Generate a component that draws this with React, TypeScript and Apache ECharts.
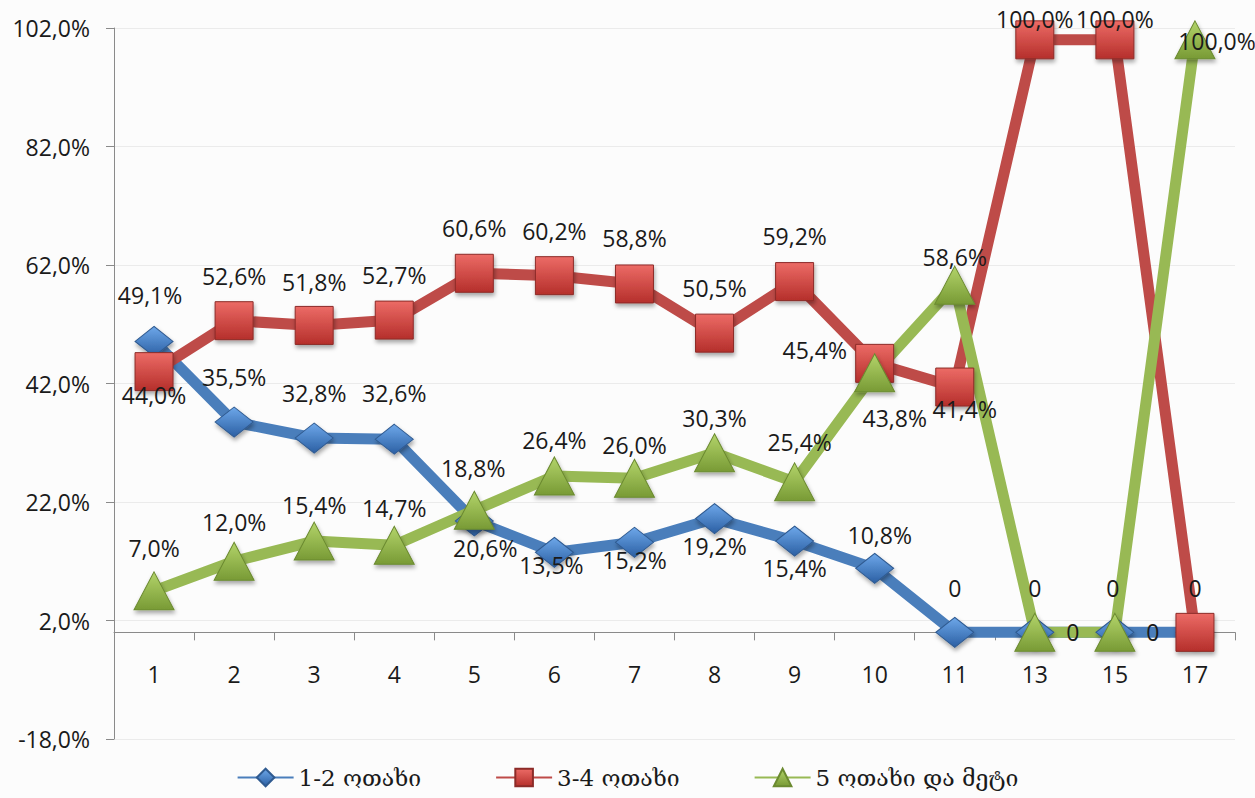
import React, { useEffect, useRef } from "react";
import * as echarts from "echarts";

const categories = ["1", "2", "3", "4", "5", "6", "7", "8", "9", "10", "11", "13", "15", "17"];
const rooms12 = [49.1, 35.5, 32.8, 32.6, 18.8, 13.5, 15.2, 19.2, 15.4, 10.8, 0, 0, 0, 0];
const rooms34 = [44.0, 52.6, 51.8, 52.7, 60.6, 60.2, 58.8, 50.5, 59.2, 45.4, 41.4, 100.0, 100.0, 0];
const rooms5 = [7.0, 12.0, 15.4, 14.7, 20.6, 26.4, 26.0, 30.3, 25.4, 43.8, 58.6, 0, 0, 100.0];
const seriesNames = ["1-2 ოთახი", "3-4 ოთახი", "5 ოთახი და მეტი"];
const yMin = -18;
const yMax = 102;
const yStep = 20;

// label placement (offset from the marker centre), styling only
const blueLabelOffsets: (number[] | null)[] = [
  [-4, -46], [0, -45], [0, -45], [0, -46], [-1, -53], [-3, 13], [0, 18], [0, 27], [0, 27], [5, -33], [0, -44], [0, -44], [-2, -44], null,
];
const redLabelOffsets: (number[] | null)[] = [
  [0, 23], [0, -45], [0, -43], [0, -45], [0, -45], [0, -45], [0, -46], [0, -45], [0, -46], [-60, -13], [10, 22], [0, -21], [0, -21], [0, -44],
];
const greenLabelOffsets: (number[] | null)[] = [
  [0, -43], [0, -39], [0, -36], [0, -37], [11, 38], [0, -36], [0, -33], [0, -35], [5, -40], [20, 45], [0, -28], [38, 0], [38, 0], [22, 1],
];

const fmt = (v: number) => (v === 0 ? "0" : v.toFixed(1).replace(".", ",") + "%");

const grad = (top: string, bottom: string) =>
  new echarts.graphic.LinearGradient(0, 0, 0, 1, [
    { offset: 0, color: top },
    { offset: 1, color: bottom },
  ]);

function buildData(values: number[], offsets: (number[] | null)[]) {
  return values.map((v, i) => {
    const off = offsets[i];
    return {
      value: v,
      label: off
        ? { show: true, position: "inside", offset: off }
        : { show: false },
    };
  });
}

export default function App() {
  const ref = useRef<HTMLDivElement>(null);
  useEffect(() => {
    if (!ref.current) return;
    const chart = echarts.init(ref.current, undefined, { renderer: "svg" });
    const labelStyle = {
      fontFamily: "Open Sans",
      fontSize: 23,
      color: "#1a1a1a",
      formatter: (p: any) => fmt(p.value),
    };
    const markerShadow = {
      shadowBlur: 4,
      shadowColor: "rgba(0,0,0,0.35)",
      shadowOffsetX: 1,
      shadowOffsetY: 3,
    };
    chart.setOption({
      animation: false,
      backgroundColor: "#fcfcfc",
      grid: { left: 114, right: 20, top: 28, bottom: 59, containLabel: false },
      legend: {
        bottom: 4,
        left: "center",
        itemWidth: 56,
        itemHeight: 22,
        itemGap: 74,
        textStyle: { fontFamily: "DejaVu Serif", fontSize: 23, color: "#1a1a1a" },
        data: seriesNames,
      },
      xAxis: {
        type: "category",
        data: categories,
        boundaryGap: true,
        axisLine: { onZero: true, lineStyle: { color: "#8a8a8a", width: 1 } },
        axisTick: { show: true, length: 8, lineStyle: { color: "#8a8a8a" } },
        axisLabel: { margin: -77, fontFamily: "Open Sans", fontSize: 23, color: "#1a1a1a" },
        splitLine: { show: false },
      },
      yAxis: {
        type: "value",
        min: yMin,
        max: yMax,
        interval: yStep,
        axisLine: { show: true, onZero: false, lineStyle: { color: "#8a8a8a", width: 1 } },
        axisTick: { show: true, length: 8, lineStyle: { color: "#8a8a8a" } },
        axisLabel: {
          margin: 24,
          fontFamily: "Open Sans",
          fontSize: 23,
          color: "#1a1a1a",
          formatter: (v: number) => v.toFixed(1).replace(".", ",") + "%",
        },
        splitLine: { show: true, lineStyle: { color: "#ebebeb", width: 1 } },
      },
      series: [
        {
          name: seriesNames[0],
          type: "line",
          data: buildData(rooms12, blueLabelOffsets),
          symbol: "diamond",
          symbolSize: [38, 30],
          lineStyle: { color: "#4a7ebb", width: 11 },
          itemStyle: { color: grad("#6ea8ea", "#2b5fa3"), borderColor: "#2f5a90", borderWidth: 1, ...markerShadow },
          label: labelStyle,
          emphasis: { disabled: true },
        },
        {
          name: seriesNames[1],
          type: "line",
          data: buildData(rooms34, redLabelOffsets),
          symbol: "rect",
          symbolSize: 38,
          lineStyle: { color: "#be4b48", width: 11 },
          itemStyle: { color: grad("#ec6b66", "#b52f2b"), borderColor: "#8c2b28", borderWidth: 1, ...markerShadow },
          label: labelStyle,
          emphasis: { disabled: true },
        },
        {
          name: seriesNames[2],
          type: "line",
          data: buildData(rooms5, greenLabelOffsets),
          symbol: "triangle",
          symbolSize: [40, 38],
          lineStyle: { color: "#98b954", width: 11 },
          itemStyle: { color: grad("#b3d46a", "#789a35"), borderColor: "#6b8a30", borderWidth: 1, ...markerShadow },
          label: labelStyle,
          emphasis: { disabled: true },
        },
      ],
    });
    return () => chart.dispose();
  }, []);
  return (
    <div
      ref={ref}
      style={{ position: "fixed", left: 0, top: 0, width: 1255, height: 798 }}
    />
  );
}
